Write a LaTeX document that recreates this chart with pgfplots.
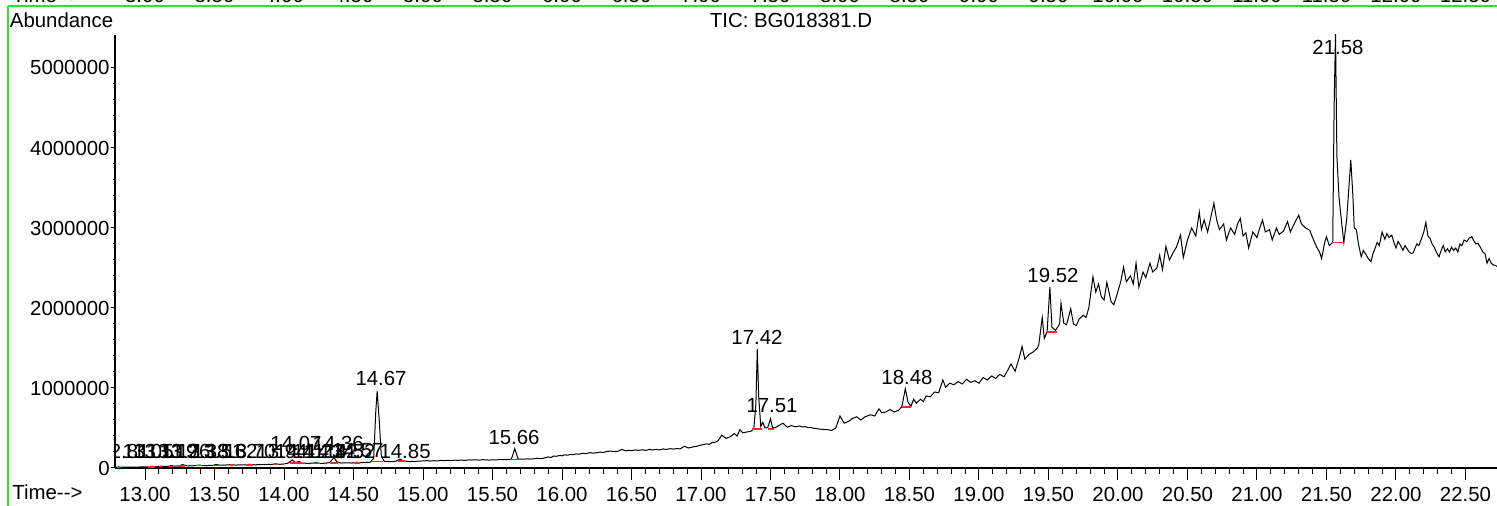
\documentclass[border=0pt]{standalone}
\usepackage{fontspec}
\setmainfont{Liberation Sans}
\usepackage{pgfplots}
\pgfplotsset{compat=1.18}
\definecolor{frame}{RGB}{40,230,40}
\definecolor{intbase}{RGB}{255,40,40}

\begin{document}
\begin{tikzpicture}[font=\fontsize{10.2}{12}\selectfont]
\useasboundingbox (-57.5pt,-19pt) rectangle (691pt,234pt);
% y ticks only (short ticks)
\begin{axis}[
  scale only axis, width=691pt, height=216.5pt,
  xmin=12.784, xmax=22.727, ymin=0, ymax=5412500,
  axis x line=none, axis y line*=left,
  axis line style={line width=0.6pt},
  tick align=outside, major tick length=2pt, minor tick length=1pt,
  xtick=\empty,
  ytick={0,1000000,2000000,3000000,4000000,5000000},
  yticklabels={0,1000000,2000000,3000000,4000000,5000000},
  minor y tick num=4, scaled y ticks=false,
  yticklabel style={inner sep=0.5pt},
  /pgf/number format/assume math mode=true,
  tick style={black, line width=0.5pt},
]
\end{axis}
% main axis: x ticks and trace
\begin{axis}[
  scale only axis, width=691pt, height=216.5pt,
  xmin=12.784, xmax=22.727, ymin=0, ymax=5412500,
  axis lines*=left,
  axis line style={line width=0.6pt},
  tick align=outside, major tick length=6pt, minor tick length=3pt,
  ytick=\empty,
  xtick={13,13.5,...,22.5},
  xticklabels={13.00,13.50,14.00,14.50,15.00,15.50,16.00,16.50,17.00,17.50,18.00,18.50,19.00,19.50,20.00,20.50,21.00,21.50,22.00,22.50},
  minor x tick num=4,
  xticklabel style={inner sep=0pt, yshift=-3.5pt},
  /pgf/number format/assume math mode=true,
  tick style={black, line width=0.5pt},
  unbounded coords=jump,
]
\addplot[black, line width=0.5pt] coordinates {
(12.784,8000) (12.80,10000) (12.81,14000) (12.83,9000) (12.86,10000) (12.90,12000)
(12.94,11000) (12.98,14000) (13.02,15000) (13.05,22000) (13.07,16000) (13.10,18000)
(13.12,25000) (13.14,19000) (13.17,22000) (13.19,30000) (13.21,22000) (13.24,26000)
(13.27,42000) (13.30,28000) (13.33,26000) (13.36,30000) (13.39,36000) (13.42,29000)
(13.45,31000) (13.49,34000) (13.51,44000) (13.54,35000) (13.58,37000) (13.62,42000)
(13.65,36000) (13.69,40000) (13.72,38000) (13.75,46000) (13.79,40000) (13.83,42000)
(13.87,44000) (13.91,45000) (13.94,52000) (13.97,46000) (14.00,50000) (14.03,62000)
(14.06,100000) (14.08,70000) (14.11,80000) (14.13,62000) (14.17,58000) (14.20,60000)
(14.23,66000) (14.26,58000) (14.30,60000) (14.33,70000) (14.36,130000) (14.38,78000)
(14.41,62000) (14.45,64000) (14.49,62000) (14.52,72000) (14.55,66000) (14.58,70000)
(14.62,72000) (14.645,120000) (14.66,700000) (14.67,960000) (14.685,600000) (14.70,150000)
(14.72,85000) (14.76,80000) (14.80,82000) (14.835,110000) (14.86,88000) (14.90,80000)
(14.95,84000) (15.00,88000) (15.03,92000) (15.05,87000) (15.08,91000) (15.10,88000)
(15.13,95000) (15.15,92000) (15.18,96000) (15.20,92000) (15.23,98000) (15.25,95000)
(15.28,99000) (15.30,95000) (15.33,102000) (15.35,99000) (15.38,103000) (15.40,98000)
(15.43,104000) (15.45,101000) (15.48,99000) (15.50,103000) (15.53,101000) (15.55,107000)
(15.58,103000) (15.60,106000) (15.635,108000) (15.66,240000) (15.685,110000) (15.72,110000)
(15.75,114000) (15.77,110000) (15.80,116000) (15.82,122000) (15.84,116000) (15.86,120000)
(15.88,128000) (15.90,138000) (15.92,132000) (15.94,150000) (15.96,146000) (15.98,156000)
(16.00,152000) (16.02,165000) (16.04,160000) (16.06,170000) (16.08,166000) (16.10,176000)
(16.12,172000) (16.15,184000) (16.17,178000) (16.20,192000) (16.22,186000) (16.25,190000)
(16.27,198000) (16.30,194000) (16.32,206000) (16.35,212000) (16.37,204000) (16.40,208000)
(16.43,232000) (16.46,214000) (16.48,222000) (16.50,216000) (16.53,226000) (16.55,220000)
(16.58,228000) (16.60,220000) (16.63,232000) (16.65,226000) (16.68,232000) (16.70,226000)
(16.73,238000) (16.75,232000) (16.78,242000) (16.80,236000) (16.83,244000) (16.85,238000)
(16.88,272000) (16.91,250000) (16.93,258000) (16.95,266000) (16.97,272000) (17.00,286000)
(17.02,294000) (17.04,302000) (17.06,296000) (17.08,318000) (17.10,322000) (17.12,335000)
(17.15,410000) (17.18,370000) (17.21,390000) (17.24,430000)
(17.26,400000) (17.28,480000) (17.30,440000) (17.33,450000) (17.36,460000) (17.38,490000)
(17.395,800000) (17.405,1490000) (17.415,900000) (17.43,520000) (17.445,570000) (17.46,500000)
(17.48,505000) (17.50,615000) (17.515,500000) (17.54,510000) (17.57,540000) (17.59,560000)
(17.62,510000) (17.65,530000) (17.68,515000) (17.71,525000) (17.73,512000) (17.75,518000)
(17.77,504000) (17.79,508000) (17.81,496000) (17.83,494000) (17.85,486000) (17.87,484000)
(17.89,478000) (17.91,480000) (17.94,470000) (17.97,500000) (18.00,650000)
(18.03,560000) (18.06,580000) (18.09,620000) (18.12,640000) (18.15,600000) (18.18,640000)
(18.22,665000) (18.25,650000) (18.28,740000) (18.30,690000) (18.33,700000) (18.36,730000)
(18.39,700000) (18.42,720000) (18.445,765000) (18.47,990000) (18.49,820000) (18.51,770000)
(18.53,860000) (18.55,810000) (18.58,860000) (18.60,830000) (18.62,900000) (18.65,890000)
(18.68,950000) (18.71,940000) (18.74,1100000) (18.76,1010000) (18.79,1060000) (18.82,1040000)
(18.85,1080000) (18.88,1050000) (18.91,1110000) (18.94,1070000) (18.97,1090000) (19.00,1060000)
(19.03,1130000) (19.06,1100000) (19.09,1150000) (19.12,1120000) (19.15,1170000) (19.18,1140000)
(19.20,1200000) (19.23,1300000) (19.26,1210000) (19.29,1380000) (19.31,1520000) (19.33,1360000)
(19.36,1420000) (19.39,1450000) (19.42,1500000) (19.43,1540000) (19.455,1880000) (19.47,1620000)
(19.49,1700000) (19.51,2260000) (19.525,1760000) (19.55,1720000) (19.58,1800000) (19.59,2060000)
(19.61,1810000) (19.63,1790000) (19.66,1990000) (19.68,1800000) (19.70,1780000) (19.72,1860000)
(19.75,1910000) (19.77,1880000) (19.79,2000000) (19.82,2390000) (19.84,2200000) (19.86,2300000)
(19.88,2140000) (19.90,2100000) (19.92,2320000) (19.95,2080000) (19.97,2040000) (19.99,2150000)
(20.02,2330000) (20.04,2510000) (20.06,2330000) (20.09,2400000) (20.11,2300000) (20.13,2560000)
(20.15,2260000) (20.18,2450000) (20.20,2380000) (20.23,2560000) (20.25,2450000) (20.28,2500000)
(20.30,2660000) (20.32,2480000) (20.345,2770000) (20.37,2600000) (20.40,2700000) (20.42,2760000)
(20.45,2910000) (20.47,2630000) (20.50,2850000) (20.53,3000000) (20.56,2900000) (20.585,3200000)
(20.60,2980000) (20.62,3100000) (20.645,2950000) (20.67,3150000) (20.69,3310000) (20.71,3100000)
(20.73,2980000) (20.76,3050000) (20.78,2850000) (20.81,3000000) (20.84,2920000) (20.86,3050000)
(20.88,3120000) (20.90,2900000) (20.92,2940000) (20.94,2750000) (20.97,2950000) (21.00,2880000)
(21.02,3000000) (21.04,3100000) (21.06,2950000) (21.09,2980000) (21.11,2850000) (21.14,3000000)
(21.16,2920000) (21.19,2960000) (21.22,3080000) (21.24,2950000) (21.27,3060000) (21.30,3160000)
(21.32,3050000) (21.35,3000000) (21.38,2970000) (21.40,2880000) (21.43,2760000) (21.45,2700000)
(21.465,2620000) (21.49,2840000) (21.50,2890000) (21.52,2780000) (21.545,2820000) (21.555,4500000)
(21.565,5430000) (21.575,3900000) (21.59,3390000) (21.61,3050000) (21.625,2820000) (21.645,3100000)
(21.665,3600000) (21.675,3850000) (21.69,3400000) (21.70,3000000) (21.715,2980000) (21.73,2800000)
(21.75,2640000) (21.765,2720000) (21.78,2680000) (21.80,2620000) (21.82,2580000) (21.835,2680000)
(21.85,2750000) (21.865,2820000) (21.88,2780000) (21.90,2950000) (21.92,2860000) (21.935,2930000)
(21.95,2880000) (21.97,2910000) (21.985,2820000) (22.00,2750000) (22.015,2830000) (22.03,2790000)
(22.05,2720000) (22.065,2780000) (22.08,2740000) (22.095,2700000) (22.11,2680000) (22.125,2690000)
(22.14,2760000) (22.15,2800000) (22.165,2780000) (22.18,2850000) (22.20,2950000) (22.215,3070000)
(22.23,2900000) (22.245,2870000) (22.26,2800000) (22.275,2760000) (22.29,2700000) (22.31,2640000)
(22.325,2720000) (22.34,2780000) (22.355,2700000) (22.37,2740000) (22.385,2700000) (22.40,2760000)
(22.415,2720000) (22.43,2750000) (22.445,2700000) (22.46,2800000) (22.475,2780000) (22.49,2850000)
(22.51,2830000) (22.525,2870000) (22.545,2890000) (22.56,2840000) (22.575,2800000) (22.59,2810000)
(22.61,2750000) (22.625,2700000) (22.64,2680000) (22.655,2560000) (22.67,2620000) (22.685,2560000)
(22.70,2540000) (22.715,2530000) (22.727,2520000)
};
% integration baselines
\addplot[intbase, line width=0.75pt] coordinates {
(12.797,9000) (12.83,9000) (12.84,nan)
(13.02,15000) (13.07,15000) (13.08,nan)
(13.10,18000) (13.13,18000) (13.14,nan)
(13.18,21000) (13.20,21000) (13.21,nan)
(13.24,26000) (13.29,26000) (13.30,nan)
(13.37,30000) (13.41,30000) (13.42,nan)
(13.49,34000) (13.53,34000) (13.54,nan)
(13.61,37000) (13.635,37000) (13.64,nan)
(13.73,40000) (13.78,40000) (13.79,nan)
(13.92,45000) (13.96,45000) (13.97,nan)
(14.04,60000) (14.13,60000) (14.14,nan)
(14.21,58000) (14.26,58000) (14.27,nan)
(14.33,62000) (14.39,62000) (14.40,nan)
(14.50,64000) (14.55,64000) (14.56,nan)
(14.63,80000) (14.71,80000) (14.72,nan)
(14.82,85000) (14.87,85000) (14.88,nan)
(15.63,105000) (15.69,105000) (15.70,nan)
(17.37,487000) (17.44,487000) (17.45,nan)
(17.48,490000) (17.525,490000) (17.53,nan)
(18.445,765000) (18.51,765000) (18.52,nan)
(19.49,1700000) (19.56,1700000) (19.57,nan)
(21.54,2820000) (21.63,2820000)
};
% peak labels
\node at (axis cs:12.849,212500) {12.81};
\node at (axis cs:13.022,212500) {13.05};
\node at (axis cs:13.094,212500) {13.11};
\node at (axis cs:13.194,212500) {13.19};
\node at (axis cs:13.288,212500) {13.26};
\node at (axis cs:13.417,212500) {13.38};
\node at (axis cs:13.525,212500) {13.51};
\node at (axis cs:13.626,212500) {13.62};
\node at (axis cs:13.755,212500) {13.70};
\node at (axis cs:13.986,212500) {13.94};
\node at (axis cs:14.115,212500) {14.11};
\node at (axis cs:14.245,212500) {14.23};
\node at (axis cs:14.345,212500) {14.32};
\node at (axis cs:14.475,212500) {14.52};
\node at (axis cs:14.532,212500) {14.57};
\node at (axis cs:14.871,212500) {14.85};
\node at (axis cs:14.086,312500) {14.07};
\node at (axis cs:14.39,312500) {14.36};
\node at (axis cs:14.698,1125000) {14.67};
\node at (axis cs:15.655,387500) {15.66};
\node at (axis cs:17.403,1637500) {17.42};
\node at (axis cs:17.511,775000) {17.51};
\node at (axis cs:18.482,1137500) {18.48};
\node at (axis cs:19.532,2412500) {19.52};
\node at (axis cs:21.583,5250000) {21.58};
\end{axis}
% titles
\node[anchor=base west, inner sep=0pt] at (-52.75pt,220pt) {Abundance};
\node[anchor=base, inner sep=0pt] at (338pt,220pt) {TIC: BG018381.D};
\node[anchor=base west, inner sep=0pt] at (-51.5pt,-16pt) {Time{-}{-}>};
% remains of the panel above, cut off by the frame
\node[anchor=base west, inner sep=0pt] at (-51.5pt,232.5pt) {Time{-}{-}>};
\foreach \t [count=\k from 0] in {3.00,3.50,4.00,4.50,5.00,5.50,6.00,6.50,7.00,7.50,8.00,8.50,9.00,9.50,10.00,10.50,11.00,11.50,12.00,12.50}
  \node[anchor=base, inner sep=0pt] at (15pt+34.75pt*\k,232.5pt) {\t};
\draw[frame, line width=0.75pt] (-53.5pt,231pt) -- (691pt,231pt);
\draw[frame, line width=0.75pt] (-53.5pt,231pt) -- (-53.5pt,-19pt);
\end{tikzpicture}
\end{document}
